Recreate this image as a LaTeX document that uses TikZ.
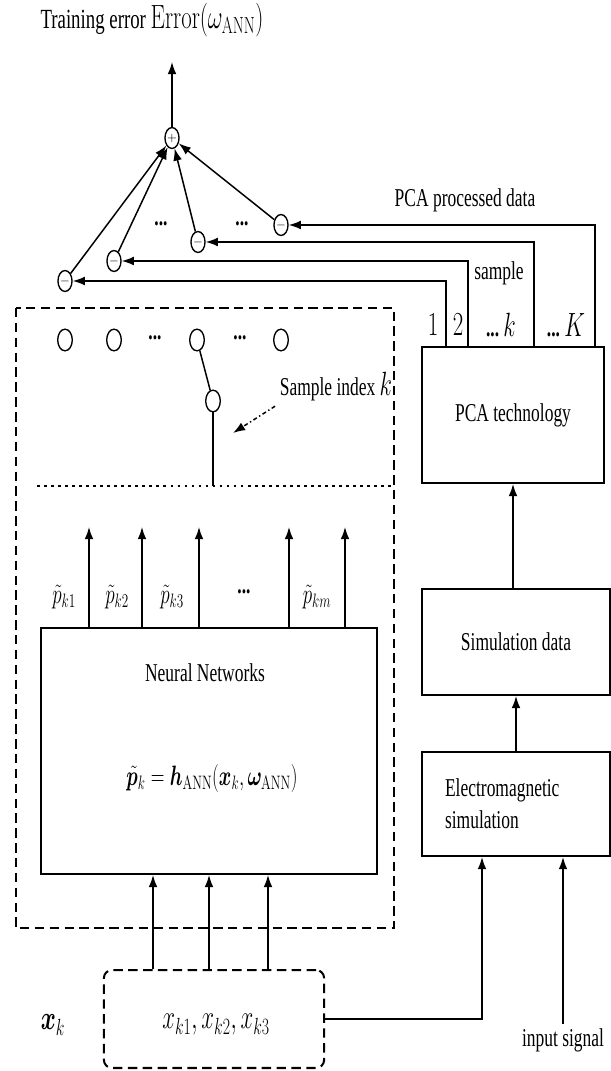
\documentclass[tikz,border=0pt]{standalone}
\usepackage{amsmath, amssymb, bm}
\usepackage[no-math]{fontspec}
\setmainfont{Liberation Serif}[FakeStretch=0.68]
\usepackage{tikz}
\usetikzlibrary{shapes, arrows, arrows.meta, positioning, calc}

% math set in the same narrow look as the text
\newcommand{\sqm}[2]{\scalebox{0.68}[1]{\fontsize{#1}{#1}\selectfont$#2$}}

\begin{document}
\begin{tikzpicture}[
        x=0.74pt, y=-0.74pt,
        font=\fontsize{19}{23.5}\selectfont,
        >={Latex[length=9pt, width=6.5pt]},
        block/.style={rectangle, draw=black, line width=1.5pt, inner sep=0pt},
        sumop/.style={ellipse, draw=black, line width=1pt, minimum width=10.4pt, minimum height=15.5pt, inner sep=0pt, font=\fontsize{9}{9}\selectfont},
        tap/.style={ellipse, draw=black, line width=1pt, minimum width=10.8pt, minimum height=16pt, inner sep=0pt},
        sig/.style={->, line width=1.1pt},
        wire/.style={-, line width=1.1pt}
    ]
    \useasboundingbox (0,0) rectangle (611,1071);

    % Error summation
    \node[font=\fontsize{20.5}{24}\selectfont] (title) at (152,20) {Training error \sqm{25}{\mathrm{Error}(\omega_{\mathrm{ANN}})}};
    \node[sumop] (sum) at (172,138) {$+$};
    \coordinate (out) at (172,62);
    \draw[sig] (sum) -- (out);

    \node[sumop] (m1) at (65,281) {$-$};
    \node[sumop] (m2) at (114,261) {$-$};
    \node[sumop] (m3) at (198,242) {$-$};
    \node[sumop] (m4) at (281,225) {$-$};
    \node (md1) at (161,224) {\textbf{...}};
    \node (md2) at (242,224) {\textbf{...}};
    \foreach \i in {1,...,4}
        \draw[sig] (m\i) -- (sum);

    % PCA branch
    \node[block, minimum width=134pt, minimum height=100.6pt] (pca) at (513,415) {PCA technology};
    \coordinate (c1) at (446,0);
    \coordinate (c2) at (468,0);
    \coordinate (c3) at (534,0);
    \coordinate (c4) at (595,0);
    \foreach \i in {1,...,4}
        \draw[sig] (pca.north -| c\i) |- (m\i);
    \node (pcaout) at (465,200) {PCA processed data};
    \node (smp) at (499,273) {sample};
    \node (l1) at (433,325) {\sqm{24}{1}};
    \node (l2) at (458,325) {\sqm{24}{2}};
    \node (lk) at (501,325) {\textbf{...}\,\sqm{24}{k}};
    \node (lK) at (566,325) {\textbf{...}\,\sqm{24}{K}};

    \node[block, minimum width=139pt, minimum height=78.4pt] (sim) at (516,642) {Simulation data};
    \node[block, minimum width=139pt, minimum height=77pt, align=left, text width=105pt] (em) at (516,804) {Electromagnetic\\simulation};
    \draw[sig] (em) -- (sim);
    \draw[sig] (sim.north -| pca.south) -- (pca.south);

    % ANN with sample selector
    \draw[line width=1.5pt, dash pattern=on 7pt off 4pt] (15.6,308) rectangle (394,928);
    \coordinate (sel) at (213,486);
    \draw[line width=2pt, dash pattern=on 2pt off 3.2pt] (37,486) -- (394,486);

    \node[tap] (t1) at (65,340) {};
    \node[tap] (t2) at (114,340) {};
    \node[tap] (t3) at (197,340) {};
    \node[tap] (t4) at (281,340) {};
    \node (td1) at (155,338) {\textbf{...}};
    \node (td2) at (240,338) {\textbf{...}};
    \node[tap] (sw) at (213,401) {};
    \draw[wire] (t3) -- (sw);
    \draw[wire] (sw) -- (sel);

    \node (idx) at (336,387) {Sample index \sqm{24}{k}};
    \coordinate (idxtip) at (233,433);
    \draw[sig, dash pattern=on 3pt off 2pt on 1pt off 2pt] (idx.south west) -- (idxtip);

    \node[block, minimum width=248.6pt, minimum height=182pt] (nn) at (209,751) {};
    \node (nnname) at (205,673) {Neural Networks};
    \node (nnfun) at (212,778) {\sqm{22}{\tilde{\bm p}_k = \bm h_{\mathrm{ANN}}(\bm x_k,\bm\omega_{\mathrm{ANN}})}};

    \foreach \x [count=\i] in {89,142,199,289,345} {
        \coordinate (o\i) at (\x,527);
        \draw[sig] (nn.north -| o\i) -- (o\i);
    }
    \node[inner sep=1pt] (p1) at (64,597) {\sqm{22}{\tilde p_{k1}}};
    \node[inner sep=1pt] (p2) at (117,597) {\sqm{22}{\tilde p_{k2}}};
    \node[inner sep=1pt] (p3) at (172,597) {\sqm{22}{\tilde p_{k3}}};
    \node (pd) at (244,592) {\textbf{...}};
    \node[inner sep=1pt] (pm) at (317,597) {\sqm{22}{\tilde p_{km}}};

    % inputs
    \node[draw=black, line width=1.5pt, dash pattern=on 7pt off 4pt, rounded corners=6pt, minimum width=163pt, minimum height=72.5pt] (in) at (214,1019) {};
    \node (invals) at (216,1025) {\sqm{23}{x_{k1},x_{k2},x_{k3}}};
    \node (xk) at (53,1025) {\sqm{24}{\bm x_k}};
    \foreach \x [count=\i] in {153,209,268} {
        \coordinate (i\i) at (\x,0);
        \draw[sig] (in.north -| i\i) -- (nn.south -| i\i);
    }

    \coordinate (emin) at (482,0);
    \draw[sig] (in.east) -| (em.south -| emin);
    \node (insig) at (563,1040) {input signal};
    \draw[sig] (insig.north) -- (em.south -| insig.north);

\end{tikzpicture}
\end{document}
